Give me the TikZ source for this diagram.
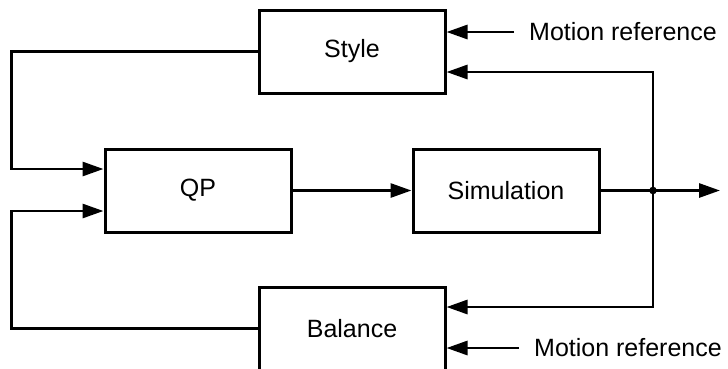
\documentclass[tikz,border=0pt]{standalone}
\usepackage{fontspec}
\setmainfont{Liberation Sans}
\usetikzlibrary{arrows.meta}
\begin{document}
\begin{tikzpicture}[x=1pt,y=-1pt,
  blockbox/.style={draw,line width=3pt,minimum width=186pt,minimum height=83pt,inner sep=0pt,font=\fontsize{25}{30}\selectfont},
  arr/.style={line width=2.9pt,-{Triangle[length=21pt,width=14pt]}},
  lbl/.style={inner sep=0pt,inner xsep=15pt,anchor=west,font=\fontsize{25}{30}\selectfont}]
\useasboundingbox (0,0) rectangle (728,368);
\node[blockbox] (style) at (352,51.5) {Style};
\node[blockbox] (qp) at (198,190.5) {QP};
\node[blockbox] (sim) at (506,190.5) {Simulation};
\node[blockbox] (balance) at (352,328.5) {Balance};
\node[lbl] (mr1) at (514,32) {Motion reference};
\node[lbl] (mr2) at (519,348) {Motion reference};
\coordinate (j) at (653,190.5);
\coordinate (out) at (720,190.5);
\draw[arr] (mr1.west) -- (mr1.west -| style.east);
\draw[arr] (mr2.west) -- (mr2.west -| balance.east);
\draw[arr] (style.west) -- ++(-246,0) |- ([yshift=21.5pt]qp.west);
\draw[arr] (balance.west) -- ++(-246,0) |- ([yshift=-20.5pt]qp.west);
\draw[arr] (qp.east) -- (sim.west);
\draw[arr] (sim.east) -- (out);
\draw[arr] (j) |- ([yshift=-20.5pt]style.east);
\draw[arr] (j) |- ([yshift=21.5pt]balance.east);
\fill (j) circle (3.8pt);
\end{tikzpicture}
\end{document}
